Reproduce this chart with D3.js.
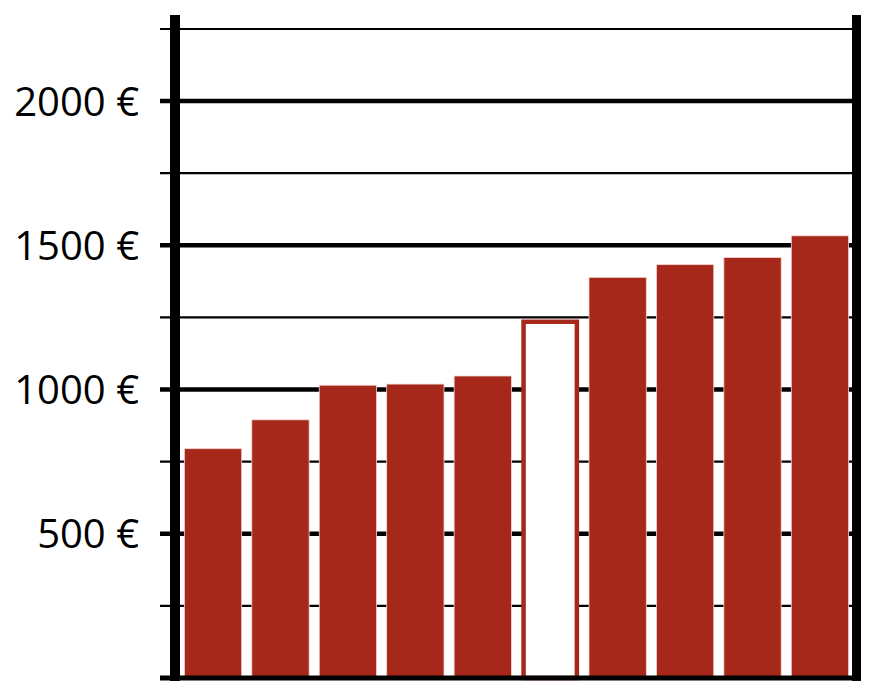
<!DOCTYPE html>
<html>
<head>
<meta charset="utf-8">
<script src="https://cdn.jsdelivr.net/npm/d3@7"></script>
<style>
  html, body { margin: 0; padding: 0; background: #fff; }
  svg { display: block; }
</style>
</head>
<body>
<svg id="chart" width="872" height="696"></svg>
<script>
// bars, left to right
var categories = ['1', '2', '3', '4', '5', '6', '7', '8', '9', '10'];
var values = [795, 895, 1015, 1019, 1047, 1235, 1389, 1433, 1458, 1533];
var highlighted = ['6']; // drawn as an outline only
var gridValues = [250, 500, 750, 1000, 1250, 1500, 1750, 2000, 2250];
var tickLabels = [
  { v: 500, label: '500 €' },
  { v: 1000, label: '1000 €' },
  { v: 1500, label: '1500 €' },
  { v: 2000, label: '2000 €' }
];

var red = '#a6281a';
var svg = d3.select('#chart');

var y = d3.scaleLinear().domain([0, 2250]).range([678, 29]);
var x = d3.scaleBand()
  .domain(categories)
  .range([181, 852])
  .paddingInner(0.15)
  .paddingOuter(0.05);

// gridlines, thick on every 500
svg.append('g')
  .selectAll('line')
  .data(gridValues)
  .enter()
  .append('line')
  .attr('x1', 160)
  .attr('x2', 856)
  .attr('y1', function(d) { return y(d); })
  .attr('y2', function(d) { return y(d); })
  .attr('stroke', '#000')
  .attr('stroke-width', function(d) { return d % 500 === 0 ? 4.5 : 2.2; });

// bars
var data = categories.map(function(c, i) { return { cat: c, v: values[i] }; });
svg.append('g')
  .selectAll('rect')
  .data(data)
  .enter()
  .append('rect')
  .attr('x', function(d) {
    return highlighted.indexOf(d.cat) >= 0 ? x(d.cat) + 2 : x(d.cat);
  })
  .attr('width', function(d) {
    return highlighted.indexOf(d.cat) >= 0 ? x.bandwidth() - 4 : x.bandwidth();
  })
  .attr('y', function(d) { return y(d.v); })
  .attr('height', function(d) { return y(0) - y(d.v); })
  .attr('fill', function(d) { return highlighted.indexOf(d.cat) >= 0 ? '#fff' : red; })
  .attr('stroke', function(d) { return highlighted.indexOf(d.cat) >= 0 ? red : '#f3d6cf'; })
  .attr('stroke-width', function(d) { return highlighted.indexOf(d.cat) >= 0 ? 4.5 : 0.8; });

// frame: left, right and bottom axis lines
svg.append('line')
  .attr('x1', 175).attr('x2', 175)
  .attr('y1', 15).attr('y2', 681)
  .attr('stroke', '#000').attr('stroke-width', 10);
svg.append('line')
  .attr('x1', 856.5).attr('x2', 856.5)
  .attr('y1', 15).attr('y2', 681)
  .attr('stroke', '#000').attr('stroke-width', 9);
svg.append('line')
  .attr('x1', 160).attr('x2', 861)
  .attr('y1', y(0)).attr('y2', y(0))
  .attr('stroke', '#000').attr('stroke-width', 5);

// tick labels
svg.append('g')
  .selectAll('text')
  .data(tickLabels)
  .enter()
  .append('text')
  .attr('x', 139)
  .attr('y', function(d) { return y(d.v); })
  .attr('dy', '0.36em')
  .attr('text-anchor', 'end')
  .attr('font-family', '"Open Sans", sans-serif')
  .attr('font-size', 40)
  .attr('fill', '#000')
  .text(function(d) { return d.label; });
</script>
</body>
</html>
